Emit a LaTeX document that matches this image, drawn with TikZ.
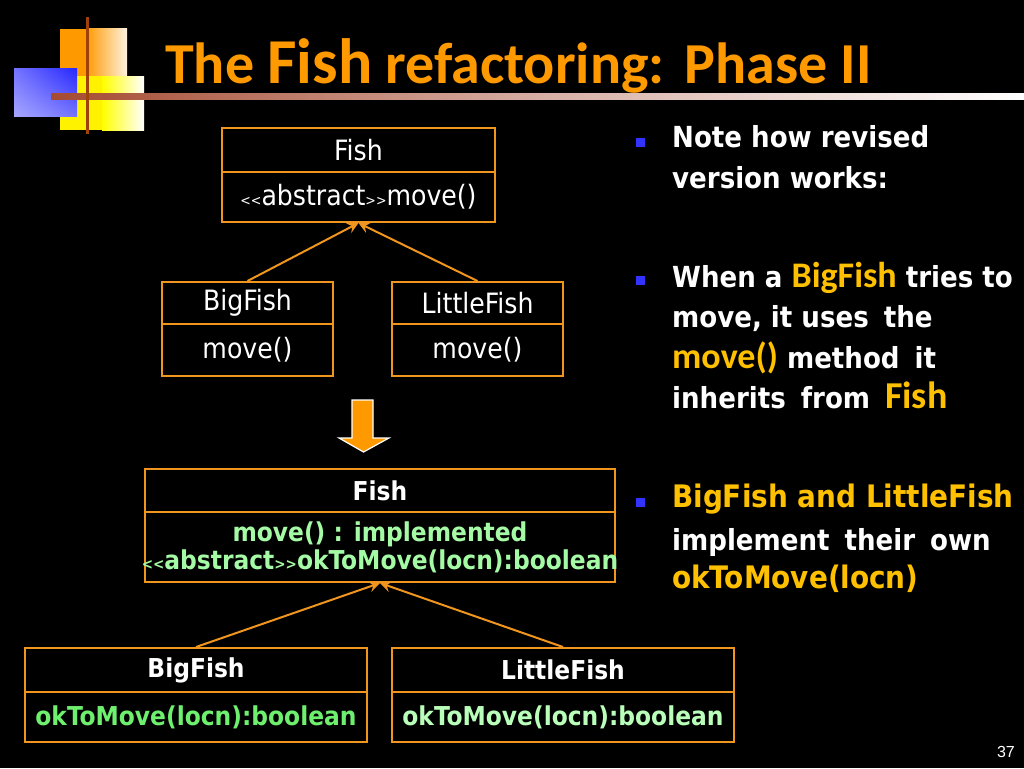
\documentclass[tikz,border=0pt]{standalone}
\usepackage{fontspec}
\usetikzlibrary{arrows.meta,shadings}
\setmainfont{DejaVu Sans Condensed}
\newfontfamily\tahfont{DejaVu Sans Condensed}
\newfontfamily\calfont{Carlito}
\newfontfamily\arifont{Liberation Sans}
\newcommand\fsz[1]{\fontsize{#1}{#1}\selectfont}
\newcommand\dsp{\hspace{15pt}}
\definecolor{ttlorange}{RGB}{255,153,0}
\definecolor{boxorange}{RGB}{240,150,30}
\definecolor{hlyellow}{RGB}{255,192,0}
\definecolor{barbrown}{RGB}{165,75,50}
\definecolor{vbrown}{RGB}{160,65,10}
\definecolor{bulblue}{RGB}{51,51,255}
\definecolor{gFish}{RGB}{165,250,165}
\definecolor{gBig}{RGB}{110,240,110}
\definecolor{gLittle}{RGB}{185,255,185}
\tikzset{
  umlbox/.style={draw=boxorange, line width=2pt, inner sep=0pt, align=center, text=white, font=\tahfont\fsz{28}},
  umlboxb/.style={umlbox, font=\tahfont\bfseries\fontsize{26}{28}\selectfont},
  inherit/.style={draw=boxorange, line width=2pt, -{Stealth[length=11pt,width=11pt,inset=4pt]}},
  bodytext/.style={anchor=base west, inner sep=0pt, text=white, font=\tahfont\bfseries\fsz{29}},
}
\begin{document}
\begin{tikzpicture}[x=1pt,y=-1pt]
\useasboundingbox (0,0) rectangle (1024,768);
\fill[black] (0,0) rectangle (1024,768);
% logo
\fill[ttlorange] (60,29) rectangle (86,76);
\shade[left color=ttlorange, right color=ttlorange!12!white] (86,29) rectangle (127,76);
\fill[yellow] (60,76) rectangle (102,130);
\shade[left color=yellow, right color=white] (102,76) rectangle (144,130);
\shade[lower left=blue!35!white, upper right=blue!85!white, lower right=blue!55!white, upper left=blue!55!white] (14,68) rectangle (77,116);
\shade[left color=barbrown, right color=white, middle color=barbrown!45!white] (51,93) rectangle (1024,99);
\fill[vbrown] (86,17) rectangle (89,134);
% title
\node[anchor=base west, inner sep=0pt, text=ttlorange, font=\calfont\bfseries\fsz{58}] (title) at (165,83)
  {The {\fsz{64}Fish} refactoring:\hspace{20pt}Phase II};
% top diagram
\node[umlbox, minimum width=273pt, minimum height=44pt] (fishA) at (358.5,150) {Fish};
\node[umlbox, minimum width=273pt, minimum height=50pt] (fishAm) at (358.5,197) {{\fsz{14}<<}abstract{\fsz{14}>>}move()};
\node[umlbox, minimum width=171pt, minimum height=42pt] (bigA) at (247.5,303) {BigFish};
\node[umlbox, minimum width=171pt, minimum height=52pt] (bigAm) at (247.5,350) {move()};
\node[umlbox, minimum width=171pt, minimum height=42pt] (litA) at (477.5,303) {LittleFish};
\node[umlbox, minimum width=171pt, minimum height=52pt] (litAm) at (477.5,350) {move()};
\draw[inherit] (bigA.north) -- (fishAm.south);
\draw[inherit] (litA.north) -- (fishAm.south);
% down arrow
\draw[white, line width=1.2pt, fill=ttlorange] (352,400) -- (373,400) -- (373,438) -- (389,438) -- (363.5,452) -- (339,438) -- (352,438) -- cycle;
% bottom diagram
\node[umlboxb, minimum width=470pt, minimum height=43pt] (fishB) at (380,490.5) {Fish};
\node[umlboxb, text=gFish, minimum width=470pt, minimum height=70pt] (fishBm) at (380,547)
  {move() : implemented\\\makebox[0pt][c]{{\fsz{15}<<}abstract{\fsz{15}>>}okToMove(locn):boolean}};
\node[umlboxb, minimum width=342pt, minimum height=44pt] (bigB) at (196,670) {BigFish};
\node[umlboxb, text=gBig, minimum width=342pt, minimum height=50pt] (bigBm) at (196,717) {okToMove(locn):boolean};
\node[umlboxb, minimum width=342pt, minimum height=44pt] (litB) at (563,670) {LittleFish};
\node[umlboxb, text=gLittle, minimum width=342pt, minimum height=50pt] (litBm) at (563,717) {okToMove(locn):boolean};
\draw[inherit] (bigB.north) -- (fishBm.south);
\draw[inherit] (litB.north) -- (fishBm.south);
% bullets
\fill[bulblue] (636,138) rectangle (645,147);
\fill[bulblue] (636,276) rectangle (645,285);
\fill[bulblue] (636,498) rectangle (645,507);
\node[bodytext] (l1) at (672,147) {Note how revised};
\node[bodytext] (l2) at (672,188) {version works:};
\node[bodytext] (l3) at (672,287) {When a {\calfont\fsz{36}\color{hlyellow}BigFish} tries to};
\node[bodytext] (l4) at (672,327) {move, it uses\dsp the};
\node[bodytext] (l5) at (672,368) {{\calfont\fsz{36}\color{hlyellow}move()} method\dsp it};
\node[bodytext] (l6) at (672,408) {inherits\dsp from\dsp{\calfont\fsz{38}\color{hlyellow}Fish}};
\node[bodytext, text=hlyellow, font=\tahfont\bfseries\fsz{31}] (l7) at (672,507) {BigFish and LittleFish};
\node[bodytext] (l8) at (672,550) {implement\dsp their\dsp own};
\node[bodytext, text=hlyellow, font=\tahfont\bfseries\fsz{31}] (l9) at (672,588) {okToMove(locn)};
% page number
\node[anchor=base east, inner sep=0pt, text=white, font=\arifont\fsz{16}] (pg) at (1015,757) {37};
\end{tikzpicture}
\end{document}
